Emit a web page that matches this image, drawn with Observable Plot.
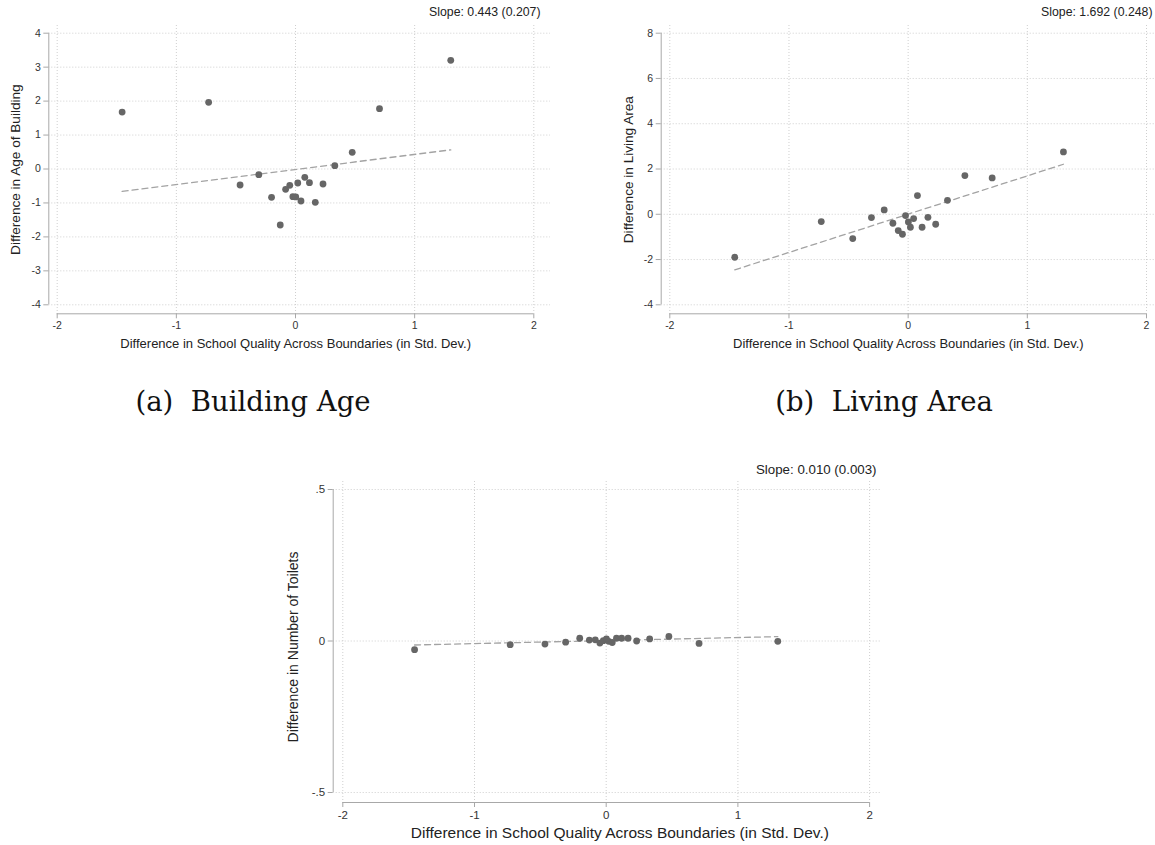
<!DOCTYPE html>
<html>
<head>
<meta charset="utf-8">
<script src="https://cdn.jsdelivr.net/npm/d3@7"></script>
<script src="https://cdn.jsdelivr.net/npm/@observablehq/plot@0.6"></script>
<style>
  body { margin: 0; background: #fff; }
  #fig { position: relative; width: 1155px; height: 845px; overflow: hidden; background: #fff; }
  .panel { position: absolute; }
  .cap { position: absolute; font-family: "DejaVu Serif", serif; font-size: 27.5px; color: #111;
         white-space: pre; transform: translateX(-50%); line-height: 30px; }
</style>
</head>
<body>
<div id="fig"></div>
<script>
// Difference in school quality across each boundary (std. dev.), shared by all panels
const schoolQualityDiff = [-1.455, -0.729, -0.465, -0.308, -0.201, -0.128, -0.083, -0.048, -0.022, 0.002,
                            0.019, 0.046, 0.078, 0.117, 0.166, 0.231, 0.330, 0.476, 0.705, 1.303];
// Boundary differences in housing characteristics
const ageDiff    = [1.678, 1.963, -0.471, -0.167, -0.834, -1.649, -0.599, -0.481, -0.815, -0.824,
                    -0.412, -0.942, -0.245, -0.402, -0.981, -0.442, 0.098, 0.491, 1.776, 3.200];
const areaDiff   = [-1.900, -0.324, -1.075, -0.147, 0.191, -0.398, -0.721, -0.883, -0.059, -0.339,
                    -0.574, -0.191, 0.824, -0.574, -0.133, -0.442, 0.618, 1.708, 1.605, 2.753];
const toiletDiff = [-0.0285, -0.012, -0.010, -0.004, 0.009, 0.003, 0.004, -0.007, 0.001, 0.007,
                    -0.001, -0.005, 0.009, 0.009, 0.009, 0.000, 0.007, 0.015, -0.008, -0.001];

// Fitted lines: slope (standard error) and intercept
const fitSlope     = [0.443, 1.692, 0.010];
const fitSE        = [0.207, 0.248, 0.003];
const fitIntercept = [-0.013, 0.005, 0.0014];

// Axis ticks and titles
const xTicks  = [-2, -1, 0, 1, 2];
const yTicksA = [-4, -3, -2, -1, 0, 1, 2, 3, 4];
const yTicksB = [-4, -2, 0, 2, 4, 6, 8];
const yTicksC = [-0.5, 0, 0.5];
const xTitle  = "Difference in School Quality Across Boundaries (in Std. Dev.)";
const yTitles = ["Difference in Age of Building", "Difference in Living Area", "Difference in Number of Toilets"];
const captions = ["(a)  Building Age", "(b)  Living Area"];

const fig = document.getElementById("fig");
const stataFmt = d => d === 0 ? "0" : String(d).replace(/^(-?)0\./, "$1.");

function panel(values, i, yTicks, L) {
  const data = schoolQualityDiff.map((x, k) => ({x, y: values[k]}));
  const xs = d3.extent(schoolQualityDiff);
  const fit = xs.map(x => ({x, y: fitIntercept[i] + fitSlope[i] * x}));
  const yDomain = d3.extent(yTicks);
  const label = `Slope: ${fitSlope[i].toFixed(3)} (${fitSE[i].toFixed(3)})`;
  const grid = {stroke: "#cfcfcf", strokeOpacity: 1, strokeDasharray: "1,2"};
  const svg = Plot.plot({
    width: L.width, height: L.height,
    marginLeft: L.ml, marginTop: L.mt, marginRight: L.mr, marginBottom: L.mb,
    style: {fontFamily: "'Liberation Sans', Arial, sans-serif", background: "transparent", overflow: "visible"},
    x: {domain: [-2, 2], range: L.xRange},
    y: {domain: yDomain, range: L.yRange},
    marks: [
      Plot.gridY(yTicks, grid),
      Plot.gridX(xTicks, grid),
      // detached axis lines
      Plot.ruleX([-2], {y1: yDomain[0], y2: yDomain[1], dx: L.ml - L.xRange[0], stroke: "#a8a8a8"}),
      Plot.ruleY([yDomain[0]], {x1: -2, x2: 2, dy: (L.height - L.mb) - L.yRange[0], stroke: "#a8a8a8"}),
      Plot.axisY(yTicks, {anchor: "left", tickSize: 5, tickPadding: 3, tickFormat: stataFmt, label: null,
                          stroke: "#a8a8a8", fill: "#333", fontSize: L.tickFont}),
      Plot.axisX(xTicks, {anchor: "bottom", tickSize: 5, tickPadding: 3, tickFormat: stataFmt, label: null,
                          stroke: "#a8a8a8", fill: "#333", fontSize: L.tickFont}),
      Plot.line(fit, {x: "x", y: "y", stroke: "#a3a3a3", strokeWidth: 1.3, strokeDasharray: "6,4"}),
      Plot.dot(data, {x: "x", y: "y", r: 3.4, fill: "#666", stroke: "none"}),
      Plot.text([label], {text: d => d, frameAnchor: "top-right", textAnchor: "end", lineAnchor: "middle",
                          dx: L.slopeDx, dy: L.slopeDy, fontSize: L.slopeFont, fill: "#222"}),
      Plot.text([xTitle], {text: d => d, frameAnchor: "bottom", textAnchor: "middle", lineAnchor: "middle",
                           dx: L.xtDx, dy: L.xtDy, fontSize: L.titleFont, fill: "#222"}),
      Plot.text([yTitles[i]], {text: d => d, frameAnchor: "left", rotate: -90, textAnchor: "middle",
                               lineAnchor: "middle", dx: L.ytDx, dy: L.ytDy, fontSize: L.yTitleFont, fill: "#222"})
    ]
  });
  svg.classList.add("panel");
  svg.style.left = L.left + "px";
  svg.style.top = L.top + "px";
  fig.appendChild(svg);
}

panel(ageDiff, 0, yTicksA, {
  left: 0, top: 0, width: 560, height: 360, ml: 48.3, mt: 25, mr: 10, mb: 46.7,
  xRange: [56.7, 533.3], yRange: [304.3, 32.7],
  tickFont: 10.5, slopeFont: 12.3, titleFont: 13, yTitleFont: 13.6,
  slopeDx: -10, slopeDy: -13, xtDx: -4, xtDy: 30, ytDx: -33, ytDy: 0
});
panel(areaDiff, 1, yTicksB, {
  left: 580, top: 0, width: 575, height: 360, ml: 80.7, mt: 25, mr: 0, mb: 46.7,
  xRange: [89.3, 566], yRange: [304.3, 32.7],
  tickFont: 10.5, slopeFont: 12.3, titleFont: 13, yTitleFont: 13.6,
  slopeDx: -3, slopeDy: -13, xtDx: 0, xtDy: 30, ytDx: -33, ytDy: 0
});
panel(toiletDiff, 2, yTicksC, {
  left: 280, top: 450, width: 600, height: 395, ml: 52.7, mt: 31, mr: 0, mb: 43,
  xRange: [62.3, 589.1], yRange: [342, 39],
  tickFont: 11.5, slopeFont: 13.3, titleFont: 15.5, yTitleFont: 14,
  slopeDx: -4, slopeDy: -12, xtDx: 13, xtDy: 31, ytDx: -40, ytDy: 5
});

const capPos = [[253, 386], [884, 386]];
captions.forEach((c, k) => {
  const d = document.createElement("div");
  d.className = "cap";
  d.textContent = c;
  d.style.left = capPos[k][0] + "px";
  d.style.top = capPos[k][1] + "px";
  fig.appendChild(d);
});
</script>
</body>
</html>
